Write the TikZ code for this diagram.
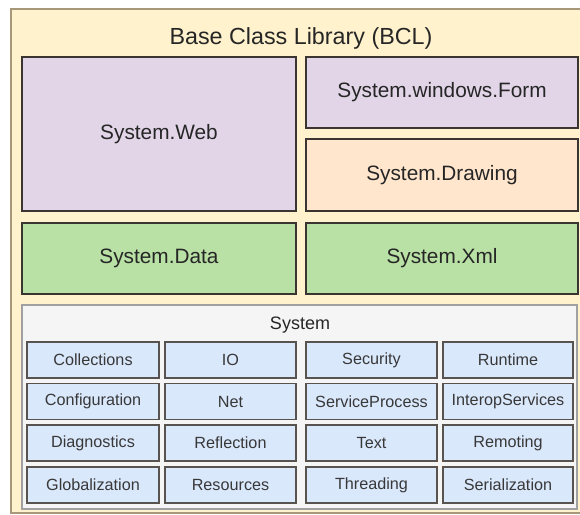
\documentclass[tikz,border=0pt]{standalone}
\usepackage{fontspec}
\setmainfont{Liberation Sans}
\definecolor{outerfill}{HTML}{FFF2CC}
\definecolor{outerline}{HTML}{A8987A}
\definecolor{purplefill}{HTML}{E1D5E7}
\definecolor{peachfill}{HTML}{FFE6CC}
\definecolor{greenfill}{HTML}{B9E0A5}
\definecolor{bluefill}{HTML}{DAE8FC}
\definecolor{sysfill}{HTML}{F5F5F5}
\definecolor{sysline}{HTML}{A0A0A0}
\definecolor{boxline}{HTML}{3A3530}
\definecolor{txt}{HTML}{262626}
\definecolor{smalltxt}{HTML}{383838}
\begin{document}
\begin{tikzpicture}[x=1pt,y=-1pt,
  bigbox/.style={draw=boxline,line width=1.3pt,rectangle,inner sep=0pt,text=txt,font=\fontsize{20.8}{24}\selectfont},
  smallbox/.style={draw=boxline!85,line width=1.1pt,fill=bluefill,rectangle,inner sep=0pt,text=smalltxt,font=\fontsize{16.2}{19}\selectfont,minimum height=36pt},
  col1/.style={minimum width=132pt},
  col2/.style={minimum width=131pt},
  col3/.style={minimum width=131pt},
  col4/.style={minimum width=130pt}]
\useasboundingbox (0,0) rectangle (580,514);
\fill[white] (0,0) rectangle (580,514);
\begin{scope}
\clip (0,0) rectangle (580,514);
\node[draw=outerline,fill=outerfill,line width=1.3pt,rectangle,inner sep=0pt,minimum width=573pt,minimum height=504pt] (bcl) at (297.5,261) {};
\end{scope}
\node[text=txt,font=\fontsize{23.3}{27}\selectfont] (title) at (301,38) {Base Class Library (BCL)};
\node[bigbox,fill=purplefill,minimum width=274pt,minimum height=154pt] (web) at (159,134) {System.Web};
\node[bigbox,fill=purplefill,minimum width=272pt,minimum height=71pt] (form) at (442,92.5) {System.windows.Form};
\node[bigbox,fill=peachfill,minimum width=272pt,minimum height=72pt] (drawing) at (442,175) {System.Drawing};
\node[bigbox,fill=greenfill,minimum width=274pt,minimum height=71pt] (data) at (159,258.5) {System.Data};
\node[bigbox,fill=greenfill,minimum width=272pt,minimum height=71pt] (xml) at (442,258.5) {System.Xml};
\node[draw=sysline,fill=sysfill,line width=1.2pt,rectangle,inner sep=0pt,minimum width=555pt,minimum height=204pt] (system) at (299.5,407) {};
\node[text=txt,font=\fontsize{18}{21}\selectfont] (systitle) at (300,325) {System};
\node[smallbox,col1] (collections) at (93,360) {Collections};
\node[smallbox,col2] (io) at (230.5,360) {IO};
\node[smallbox,col3] (security) at (371.5,360) {Security};
\node[smallbox,col4] (runtime) at (508,360) {Runtime};
\node[smallbox,col1] (configuration) at (93,401.5) {Configuration};
\node[smallbox,col2] (net) at (230.5,401.5) {Net};
\node[smallbox,col3] (serviceprocess) at (371.5,401.5) {ServiceProcess};
\node[smallbox,col4] (interop) at (508,401.5) {InteropServices};
\node[smallbox,col1] (diagnostics) at (93,443) {Diagnostics};
\node[smallbox,col2] (reflection) at (230.5,443) {Reflection};
\node[smallbox,col3] (text) at (371.5,443) {Text};
\node[smallbox,col4] (remoting) at (508,443) {Remoting};
\node[smallbox,col1] (globalization) at (93,485) {Globalization};
\node[smallbox,col2] (resources) at (230.5,485) {Resources};
\node[smallbox,col3] (threading) at (371.5,485) {Threading};
\node[smallbox,col4] (serialization) at (508,485) {Serialization};
\end{tikzpicture}
\end{document}
